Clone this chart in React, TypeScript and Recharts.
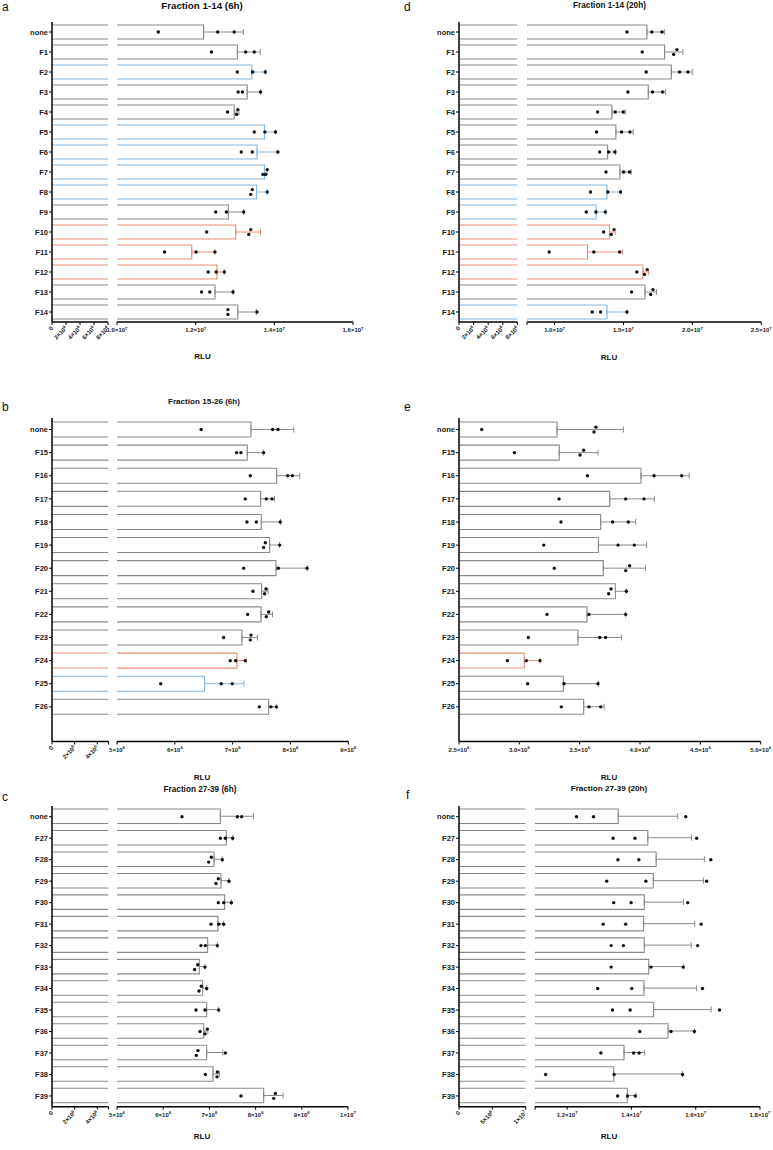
import React from 'react';
import { ComposedChart, Bar, Line, XAxis, YAxis, ErrorBar } from 'recharts';

const FONT = '"Liberation Sans", Arial, Helvetica, sans-serif';
const COLORS: Record<string, string> = { g: '#8a8a8a', b: '#86b6dc', r: '#e88d7b' };

// all values in units of 10^6 RLU

// a: Fraction 1-14 (6h)
const catsA = ['none', 'F1', 'F2', 'F3', 'F4', 'F5', 'F6', 'F7', 'F8', 'F9', 'F10', 'F11', 'F12', 'F13', 'F14'];
const kindA = ['g', 'g', 'b', 'g', 'g', 'b', 'b', 'b', 'b', 'g', 'r', 'r', 'r', 'g', 'g'];
const meanA = [12.2, 13.06, 13.43, 13.31, 12.98, 13.75, 13.56, 13.75, 13.55, 12.83, 13.02, 11.9, 12.54, 12.49, 13.07];
const sdA = [1.01, 0.58, 0.34, 0.34, 0.12, 0.28, 0.51, 0.07, 0.27, 0.39, 0.63, 0.59, 0.19, 0.46, 0.47];
const r1A = [11.05, 12.4, 13.06, 13.08, 12.81, 13.49, 13.16, 13.71, 13.4, 12.51, 12.28, 11.21, 12.32, 12.15, 12.82];
const r2A = [12.56, 13.27, 13.45, 13.19, 13.04, 13.76, 13.44, 13.78, 13.44, 12.78, 13.35, 12.01, 12.52, 12.36, 12.82];
const r3A = [12.98, 13.49, 13.77, 13.65, 13.07, 14.03, 14.09, 13.82, 13.82, 13.22, 13.4, 12.49, 12.73, 12.95, 13.56];

// d: Fraction 1-14 (20h)
const kindD = ['g', 'g', 'g', 'g', 'g', 'g', 'g', 'g', 'b', 'b', 'r', 'r', 'r', 'g', 'b'];
const meanD = [16.7, 17.98, 18.47, 16.8, 14.16, 14.45, 13.85, 14.74, 13.8, 13.02, 13.99, 12.39, 16.41, 16.56, 13.8];
const sdD = [1.26, 1.33, 1.52, 1.26, 0.97, 1.26, 0.58, 0.82, 1.04, 0.71, 0.41, 2.52, 0.41, 0.84, 1.45];
const r1D = [15.25, 16.36, 16.65, 15.32, 13.12, 13.05, 13.27, 13.73, 12.61, 12.3, 13.56, 9.61, 15.97, 15.59, 12.73];
const r2D = [17.06, 18.64, 19.07, 17.11, 14.4, 14.86, 13.92, 15.01, 13.87, 13.0, 14.11, 12.85, 16.53, 16.97, 13.34];
const r3D = [17.79, 18.88, 19.68, 17.84, 14.98, 15.47, 14.38, 15.44, 14.79, 13.68, 14.31, 14.72, 16.72, 17.14, 15.25];

// b: Fraction 15-26 (6h)
const catsB = ['none', 'F15', 'F16', 'F17', 'F18', 'F19', 'F20', 'F21', 'F22', 'F23', 'F24', 'F25', 'F26'];
const kindB = ['g', 'g', 'g', 'g', 'g', 'g', 'g', 'g', 'g', 'g', 'r', 'b', 'g'];
const meanB = [7.317, 7.253, 7.761, 7.484, 7.496, 7.64, 7.75, 7.501, 7.49, 7.161, 7.074, 6.514, 7.623];
const sdB = [0.74, 0.28, 0.4, 0.24, 0.33, 0.17, 0.54, 0.11, 0.2, 0.27, 0.16, 0.68, 0.14];
const r1B = [6.456, 7.068, 7.305, 7.218, 7.247, 7.536, 7.19, 7.351, 7.259, 6.843, 6.958, 5.757, 7.461];
const r2B = [7.692, 7.143, 7.952, 7.582, 7.409, 7.565, 7.79, 7.553, 7.582, 7.305, 7.051, 6.802, 7.663];
const r3B = [7.785, 7.536, 8.033, 7.681, 7.825, 7.813, 8.287, 7.577, 7.623, 7.317, 7.218, 6.993, 7.756];

// e: Fraction 15-26 (20h)
const kindE = ['g', 'g', 'g', 'g', 'g', 'g', 'g', 'g', 'g', 'g', 'r', 'g', 'g'];
const meanE = [3.312, 3.331, 4.008, 3.749, 3.674, 3.655, 3.696, 3.796, 3.561, 3.486, 3.041, 3.365, 3.533];
const sdE = [0.55, 0.32, 0.4, 0.37, 0.29, 0.4, 0.35, 0.09, 0.32, 0.36, 0.13, 0.29, 0.17];
const r1E = [2.688, 2.959, 3.564, 3.329, 3.345, 3.202, 3.29, 3.74, 3.229, 3.075, 2.901, 3.069, 3.348];
const r2E = [3.619, 3.503, 4.116, 3.881, 3.773, 3.818, 3.881, 3.76, 3.577, 3.666, 3.058, 3.37, 3.577];
const r3E = [3.635, 3.533, 4.345, 4.033, 3.903, 3.953, 3.914, 3.887, 3.881, 3.715, 3.171, 3.652, 3.674];

// c: Fraction 27-39 (6h)
const catsC = ['none', 'F27', 'F28', 'F29', 'F30', 'F31', 'F32', 'F33', 'F34', 'F35', 'F36', 'F37', 'F38', 'F39'];
const kindC = catsC.map(() => 'g');
const meanC = [7.237, 7.366, 7.1, 7.251, 7.33, 7.186, 6.962, 6.782, 6.854, 6.941, 6.876, 6.941, 7.078, 8.175];
const sdC = [0.72, 0.14, 0.18, 0.17, 0.15, 0.12, 0.21, 0.12, 0.09, 0.26, 0.09, 0.35, 0.14, 0.42];
const r1C = [6.407, 7.237, 6.984, 7.143, 7.193, 7.035, 6.818, 6.681, 6.775, 6.71, 6.797, 6.717, 6.912, 7.684];
const r2C = [7.605, 7.345, 7.042, 7.193, 7.309, 7.201, 6.912, 6.746, 6.825, 6.905, 6.905, 6.753, 7.165, 8.391];
const r3C = [7.698, 7.504, 7.28, 7.424, 7.475, 7.309, 7.172, 6.905, 6.941, 7.201, 6.955, 7.345, 7.172, 8.427];

// f: Fraction 27-39 (20h)
const kindF = catsC.map(() => 'g');
const meanF = [13.59, 14.51, 14.77, 14.68, 14.4, 14.38, 14.4, 14.54, 14.39, 14.69, 15.14, 13.77, 13.45, 13.87];
const sdF = [1.85, 1.36, 1.5, 1.56, 1.22, 1.59, 1.46, 1.09, 1.64, 1.79, 0.82, 0.64, 2.14, 0.27];
const r1F = [12.29, 13.43, 13.58, 13.23, 13.45, 13.12, 13.37, 13.37, 12.95, 13.41, 14.26, 13.05, 11.33, 13.57];
const r2F = [12.82, 14.11, 14.23, 14.45, 13.99, 13.82, 13.75, 14.61, 14.01, 13.96, 15.23, 14.07, 13.46, 13.88];
const r3F = [15.69, 16.03, 16.47, 16.34, 15.75, 16.17, 16.06, 15.61, 16.21, 16.74, 15.96, 14.24, 15.59, 14.12];

// axis ticks (10^6)
const ticksA1 = [0, 2, 4, 6, 8];
const ticksA2 = [10, 12, 14, 16];
const ticksD1 = [0, 2, 4, 6, 8];
const ticksD2 = [8, 10, 15, 20, 25];
const ticksB1 = [0, 2, 4, 5];
const ticksB2 = [5, 6, 7, 8, 9];
const ticksC2 = [5, 6, 7, 8, 9, 10];
const ticksE = [2.5, 3, 3.5, 4, 4.5, 5];
const ticksF1 = [0, 5, 10];
const ticksF2 = [11, 12, 14, 16, 18];

type Seg = { domain: [number, number]; ticks: number[]; bare?: number[]; x0: number; x1: number; rot?: boolean; dec: number };

const Y_W = 48;
const X_H = 40;
const PAD = 26;
const TICK_FS = 6;

const fmt = (v: number, dec: number) => {
  if (v === 0) return { m: '0', e: '' };
  const real = v * 1e6;
  const e = Math.floor(Math.log10(real) + 1e-9);
  return { m: (real / Math.pow(10, e)).toFixed(dec), e: String(e) };
};

const makeTick = (s: Seg) => (props: any) => {
  const { x, y, payload } = props;
  const v = payload.value;
  if (s.bare && s.bare.includes(v)) return <g />;
  const { m, e } = fmt(v, s.dec);
  const body = e
    ? [<tspan key="m">{m}×10</tspan>, <tspan key="e" dy={-2.5} fontSize={4.3}>{e}</tspan>]
    : m;
  const style = { fontSize: TICK_FS, fontFamily: FONT, fontWeight: 700, fill: '#1a1a1a' };
  if (s.rot) {
    return (
      <g transform={`translate(${x},${y + 1}) rotate(-45)`}>
        <text textAnchor="end" dy={2.3} {...style}>{body}</text>
      </g>
    );
  }
  return (
    <text x={x} y={y} dy={6.3} textAnchor="middle" {...style}>{body}</text>
  );
};

const makeShape = (closed: boolean) => (props: any) => {
  const { x, y, width, height, payload, background } = props;
  if (![x, y, width, height].every(Number.isFinite)) return <g />;
  const c = COLORS[payload.k];
  if (!closed) {
    const lim = background ? background.x + background.width : x + width;
    const xe = Math.min(x + width, lim);
    return <path d={`M${x},${y}H${xe}M${x},${y + height}H${xe}`} stroke={c} strokeWidth={1.1} fill="none" />;
  }
  return (
    <g>
      <rect x={x} y={y} width={width} height={height} fill="#fff" />
      <path d={`M${x},${y}H${x + width}V${y + height}H${x}`} stroke={c} strokeWidth={1.1} fill="none" />
    </g>
  );
};

const REPS = ['r1', 'r2', 'r3'];
const makeDot = (key: string, thr: number) => (props: any) => {
  const { cx, cy, payload, index } = props;
  if (!Number.isFinite(cx) || !Number.isFinite(cy)) return <g key={`${key}-${index}`} />;
  const mine = payload[key];
  let dy = 0;
  for (const o of REPS) {
    if (o === key) continue;
    const d = payload[o] - mine;
    if (Math.abs(d) < thr) dy = d > 0 || (d === 0 && o > key) ? 2.4 : -2.4;
  }
  return <circle key={`${key}-${index}`} cx={cx} cy={cy + dy} r={1.7} fill="#111" />;
};

type PanelProps = {
  cats: string[]; kinds: string[]; means: number[]; sds: number[];
  r1: number[]; r2: number[]; r3: number[];
  top: number; bottom: number; padBottom?: number; segs: Seg[]; barSize: number;
};

function Panel(p: PanelProps) {
  const rows = p.cats.map((cat, i) => {
    const k = p.kinds[i];
    const err = [0, p.sds[i]];
    return {
      cat, k, mean: p.means[i], r1: p.r1[i], r2: p.r2[i], r3: p.r3[i],
      eg: k === 'g' ? err : null, eb: k === 'b' ? err : null, er: k === 'r' ? err : null,
    };
  });
  const h = p.bottom - p.top + X_H;
  return (
    <>
      {p.segs.map((s, si) => {
        const first = si === 0;
        const last = si === p.segs.length - 1;
        const left = first ? s.x0 - Y_W : s.x0 - PAD;
        const w = s.x1 - left + PAD;
        const thr = (4 * (s.domain[1] - s.domain[0])) / (s.x1 - s.x0);
        return (
          <div key={si} style={{ position: 'absolute', left, top: p.top, width: w, height: h }}>
            <ComposedChart
              layout="vertical"
              width={w}
              height={h}
              data={rows}
              margin={{ top: 0, right: PAD, bottom: 0, left: first ? 0 : PAD }}
              barSize={p.barSize}
            >
              <XAxis
                type="number"
                domain={s.domain}
                ticks={s.ticks}
                interval={0}
                allowDataOverflow
                height={X_H}
                axisLine={{ stroke: '#000', strokeWidth: 1.5 }}
                tickLine={{ stroke: '#000', strokeWidth: 1 }}
                tickSize={3}
                tickMargin={1}
                tick={makeTick(s)}
              />
              <YAxis
                type="category"
                dataKey="cat"
                hide={!first}
                width={Y_W}
                interval={0}
                padding={{ top: 0, bottom: p.padBottom ?? 0 }}
                axisLine={{ stroke: '#000', strokeWidth: 1.5 }}
                tickLine={{ stroke: '#000', strokeWidth: 1 }}
                tickSize={3}
                tickMargin={1}
                tick={{ fontSize: 7.5, fontWeight: 700, fill: '#1a1a1a', fontFamily: FONT }}
              />
              <Bar dataKey="mean" isAnimationActive={false} shape={makeShape(last)}>
                {last && <ErrorBar dataKey="eg" direction="x" width={3} stroke={COLORS.g} strokeWidth={1} />}
                {last && <ErrorBar dataKey="eb" direction="x" width={3} stroke={COLORS.b} strokeWidth={1} />}
                {last && <ErrorBar dataKey="er" direction="x" width={3} stroke={COLORS.r} strokeWidth={1} />}
              </Bar>
              {last && REPS.map((key) => (
                <Line
                  key={key}
                  dataKey={key}
                  stroke="none"
                  isAnimationActive={false}
                  activeDot={false}
                  legendType="none"
                  dot={makeDot(key, thr)}
                />
              ))}
            </ComposedChart>
          </div>
        );
      })}
    </>
  );
}

function Txt({ x, y, size, bold, children, center }: { x: number; y: number; size: number; bold?: boolean; center?: boolean; children: React.ReactNode }) {
  return (
    <div
      style={{
        position: 'absolute', left: x, top: y - size * 0.6, fontSize: size, lineHeight: 1.2,
        fontWeight: bold ? 700 : 400, whiteSpace: 'nowrap', color: '#111',
        transform: center ? 'translateX(-50%)' : undefined,
      }}
    >
      {children}
    </div>
  );
}

export default function App() {
  return (
    <div style={{ position: 'absolute', left: 0, top: 0, width: 773, height: 1150, background: '#fff', fontFamily: FONT, overflow: 'hidden' }}>
      <Txt x={2} y={7} size={12}>a</Txt>
      <Txt x={404} y={7} size={12}>d</Txt>
      <Txt x={2} y={407} size={12}>b</Txt>
      <Txt x={404} y={407} size={12}>e</Txt>
      <Txt x={2} y={797} size={12}>c</Txt>
      <Txt x={406} y={795} size={12}>f</Txt>

      <Txt x={202} y={6} size={9.8} bold center>Fraction 1-14 (6h)</Txt>
      <Txt x={609.5} y={6} size={8.2} bold center>Fraction 1-14 (20h)</Txt>
      <Txt x={204} y={402} size={8.1} bold center>Fraction 15-26 (6h)</Txt>
      <Txt x={200} y={790} size={8.2} bold center>Fraction 27-39 (6h)</Txt>
      <Txt x={609} y={789} size={8.1} bold center>Fraction 27-39 (20h)</Txt>

      <Txt x={202.5} y={357} size={8} bold center>RLU</Txt>
      <Txt x={609} y={358} size={8} bold center>RLU</Txt>
      <Txt x={202} y={778} size={8} bold center>RLU</Txt>
      <Txt x={609} y={778} size={8} bold center>RLU</Txt>
      <Txt x={202} y={1137} size={8} bold center>RLU</Txt>
      <Txt x={609} y={1137} size={8} bold center>RLU</Txt>

      <Panel
        cats={catsA} kinds={kindA} means={meanA} sds={sdA} r1={r1A} r2={r2A} r3={r3A}
        top={22} bottom={322} barSize={14}
        segs={[
          { domain: [0, 8], ticks: ticksA1, x0: 52, x1: 108, rot: true, dec: 0 },
          { domain: [10, 16], ticks: ticksA2, x0: 117, x1: 353, dec: 1 },
        ]}
      />
      <Panel
        cats={catsA} kinds={kindD} means={meanD} sds={sdD} r1={r1D} r2={r2D} r3={r3D}
        top={22} bottom={322} barSize={14}
        segs={[
          { domain: [0, 8], ticks: ticksD1, x0: 459.3, x1: 517.7, rot: true, dec: 0 },
          { domain: [8, 25], ticks: ticksD2, bare: [8], x0: 526.7, x1: 761, dec: 1 },
        ]}
      />
      <Panel
        cats={catsB} kinds={kindB} means={meanB} sds={sdB} r1={r1B} r2={r2B} r3={r3B}
        top={417.5} bottom={741} padBottom={23.1} barSize={15}
        segs={[
          { domain: [0, 5], ticks: ticksB1, bare: [5], x0: 51.7, x1: 108.3, rot: true, dec: 0 },
          { domain: [5, 9], ticks: ticksB2, x0: 116.7, x1: 348, dec: 0 },
        ]}
      />
      <Panel
        cats={catsB} kinds={kindE} means={meanE} sds={sdE} r1={r1E} r2={r2E} r3={r3E}
        top={417.5} bottom={741} padBottom={23.1} barSize={15}
        segs={[{ domain: [2.5, 5], ticks: ticksE, x0: 459.3, x1: 761, dec: 1 }]}
      />
      <Panel
        cats={catsC} kinds={kindC} means={meanC} sds={sdC} r1={r1C} r2={r2C} r3={r3C}
        top={806} bottom={1106.7} barSize={14.5}
        segs={[
          { domain: [0, 5], ticks: ticksB1, bare: [5], x0: 51.7, x1: 108.3, rot: true, dec: 0 },
          { domain: [5, 10], ticks: ticksC2, x0: 116.7, x1: 347.7, dec: 0 },
        ]}
      />
      <Panel
        cats={catsC} kinds={kindF} means={meanF} sds={sdF} r1={r1F} r2={r2F} r3={r3F}
        top={806} bottom={1106.7} barSize={14.5}
        segs={[
          { domain: [0, 10], ticks: ticksF1, x0: 459.3, x1: 526, rot: true, dec: 0 },
          { domain: [11, 18], ticks: ticksF2, bare: [11], x0: 535, x1: 760, dec: 1 },
        ]}
      />
    </div>
  );
}
